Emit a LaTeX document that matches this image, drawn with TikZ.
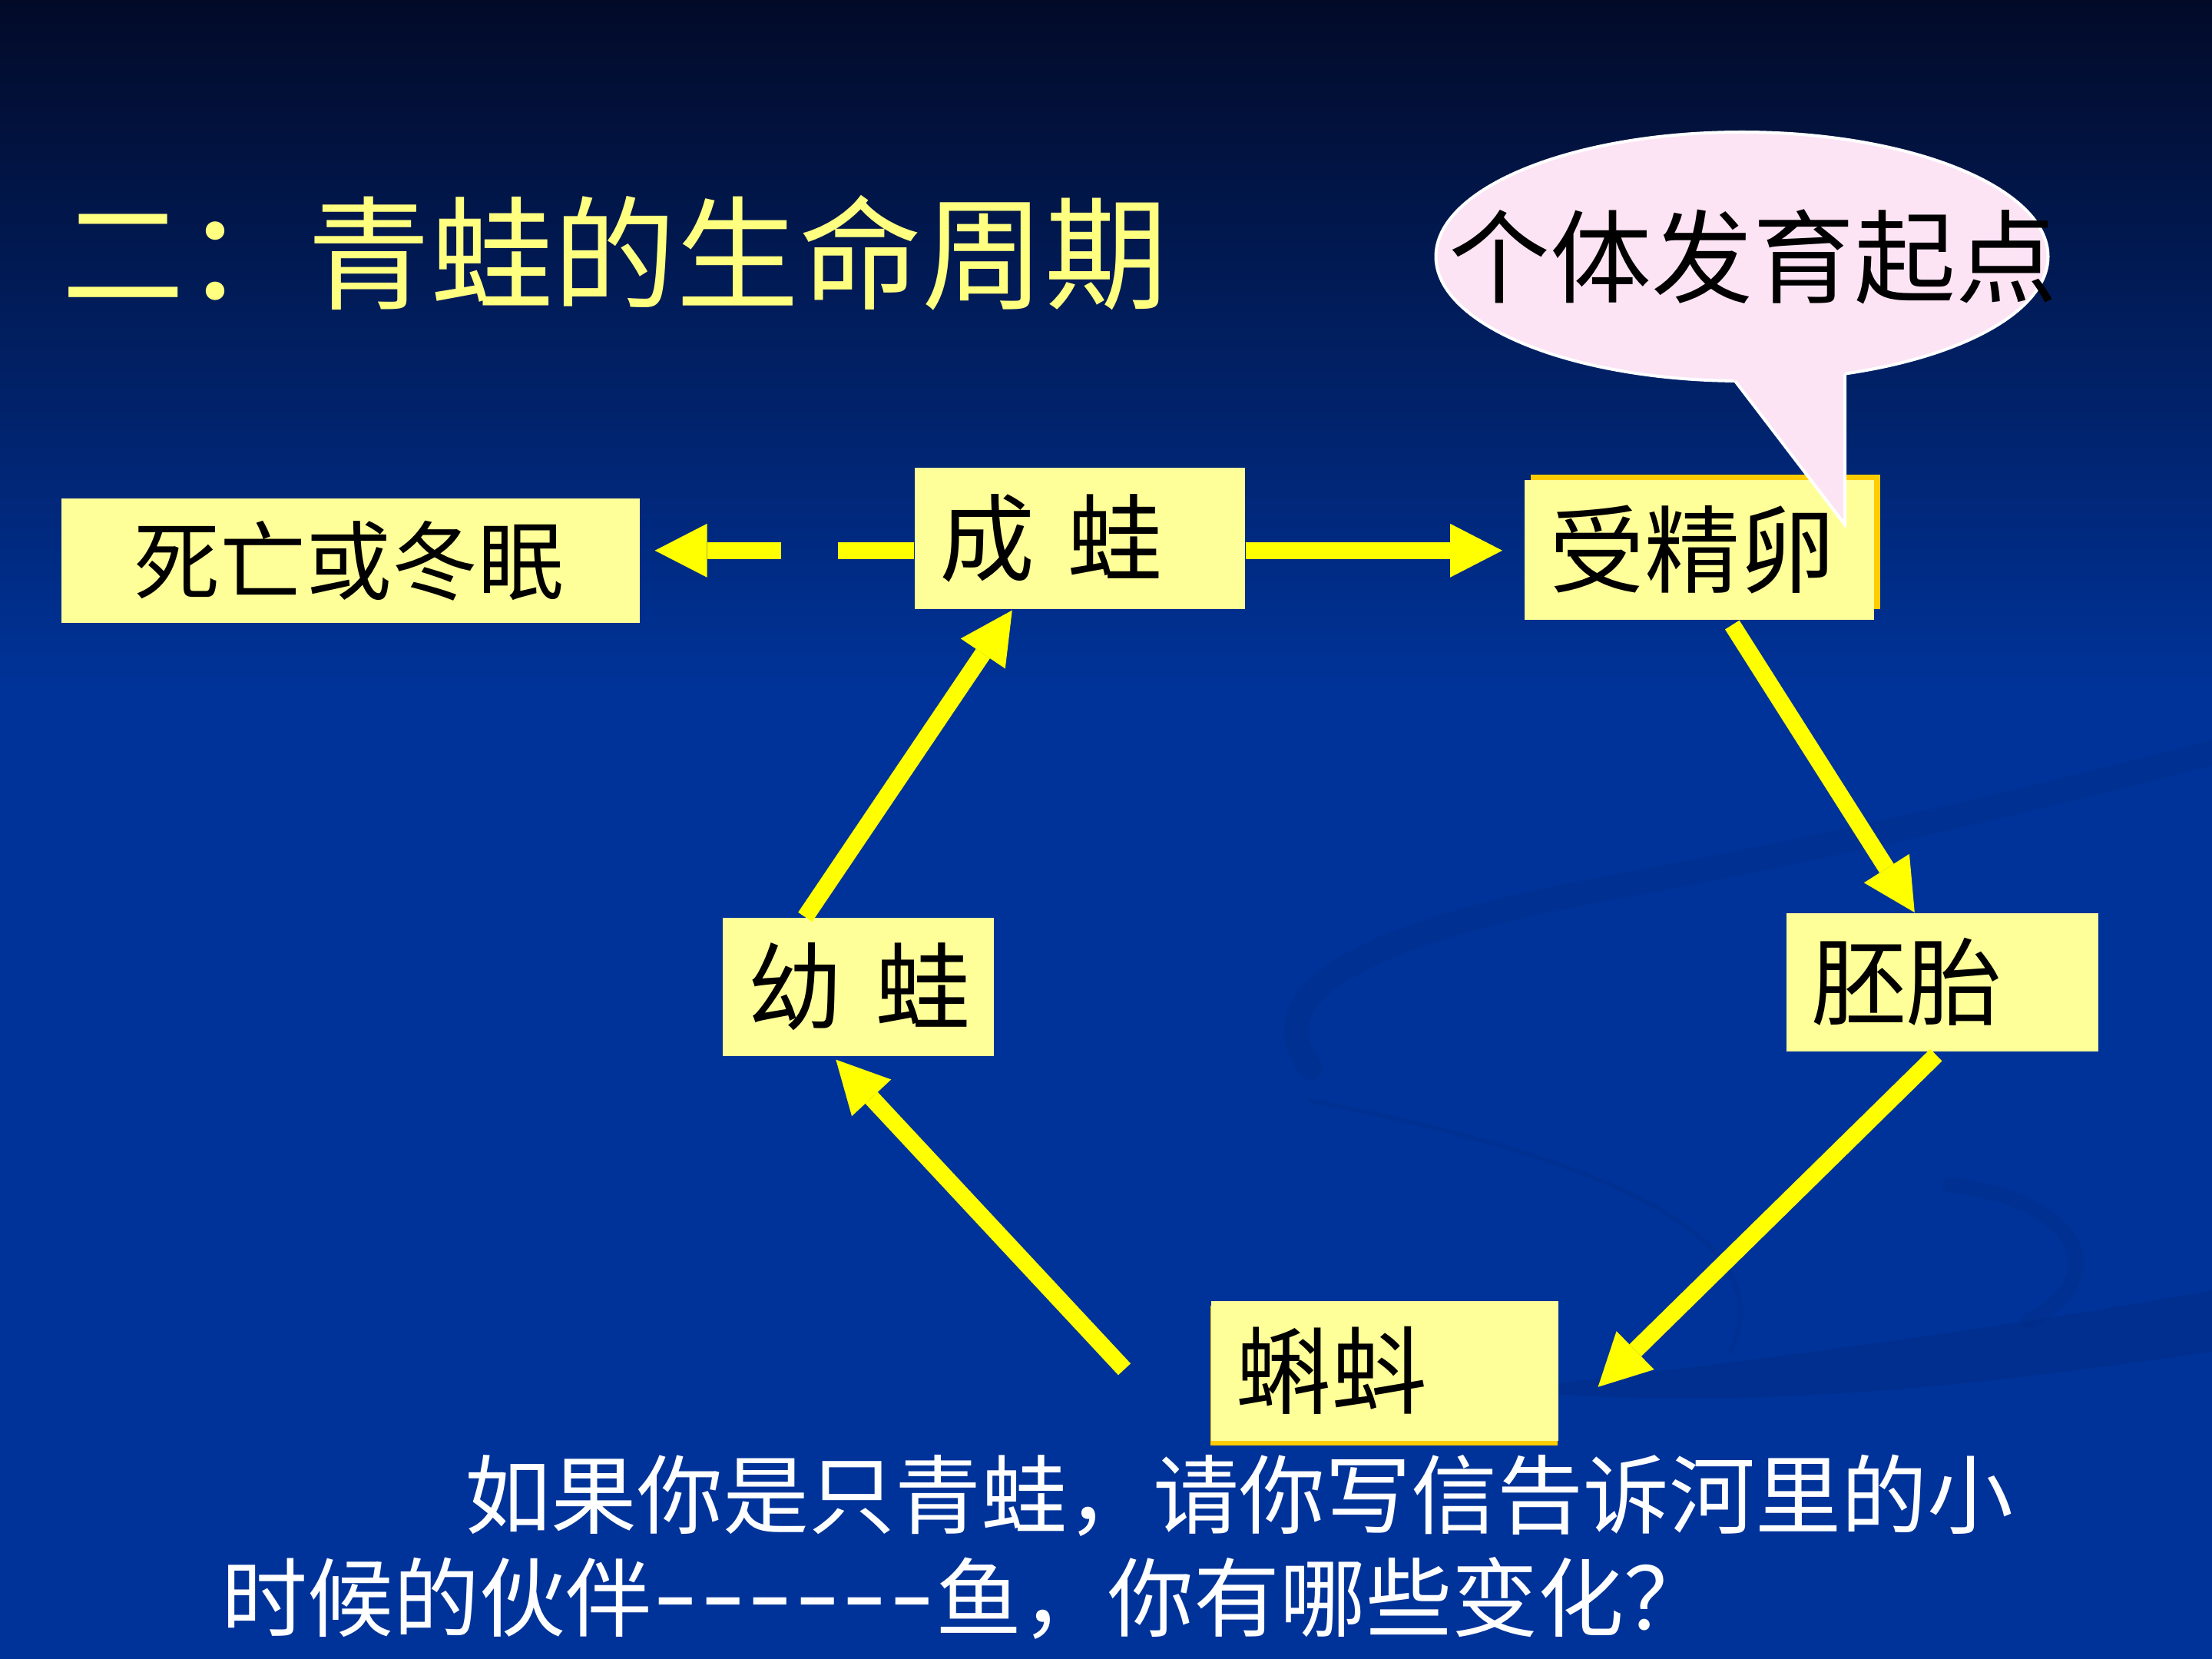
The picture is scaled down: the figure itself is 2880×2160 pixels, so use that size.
\documentclass[tikz,border=0pt]{standalone}
\usepackage{fontspec}
\newfontfamily\cjk{Noto Sans CJK SC}
\usetikzlibrary{arrows.meta,calc,shapes.geometric}
\definecolor{bgtop}{HTML}{020A28}
\definecolor{bgblue}{HTML}{003399}
\definecolor{boxy}{HTML}{FFFF99}
\definecolor{shad}{HTML}{FFCC00}
\definecolor{pinkb}{HTML}{FCE4F4}
\definecolor{titley}{HTML}{FFFF80}
\definecolor{arry}{HTML}{FFFF00}
\definecolor{swirlc}{HTML}{022A80}
\newcommand\hyph{\makebox[0.55em]{\scalebox{1.5}[1.2]{-}}}
\begin{document}
\begin{tikzpicture}[x=0.25pt,y=-0.25pt,
  boxs/.style 2 args={fill=boxy, text=black, anchor=north west, inner xsep=0pt,
    inner ysep=0pt, text width=#1, minimum height=#2, align=left,
    execute at begin node={\hspace*{8.25pt}},
    font=\cjk\fontsize{31}{34}\selectfont},
  arr/.style={draw=arry, line width=5.5pt,
    -{Triangle[length=17pt,width=17.5pt,line width=0pt]}},
  plaintext/.style={anchor=west, inner sep=0pt},
  swirl/.style={draw=swirlc, opacity=0.3, line cap=round}]
\useasboundingbox (0,0) rectangle (2880,2160);
% background
\fill[bgblue] (0,0) rectangle (2880,2160);
\shade[top color=bgtop, bottom color=bgblue] (0,0) rectangle (2880,900);
% faint background swirls
\draw[swirl, line width=8pt] (1706,1390) .. controls (1640,1300) and (1750,1220) .. (2090,1157) .. controls (2400,1100) and (2650,1040) .. (2880,980);
\draw[swirl, line width=1.5pt] (1706,1433) .. controls (2050,1500) and (2330,1600) .. (2253,1760);
\draw[swirl, line width=5pt] (2539,1543) .. controls (2700,1560) and (2760,1660) .. (2640,1720);
\fill[swirlc, opacity=0.35] (1950,1810) .. controls (2300,1770) and (2600,1730) .. (2880,1680) -- (2880,1760) .. controls (2600,1800) and (2300,1840) .. (1950,1810) -- cycle;

% title
\node[plaintext, text=titley, font=\cjk\fontsize{40}{44}\selectfont] (title) at (80,329) {二：青蛙的生命周期};

% shadows
\fill[shad] (1993,618) rectangle (2448,793);
\fill[shad] (1576,1700) rectangle (2028,1882);

% boxes
\node[boxs={188.25pt}{40.5pt}, align=center, execute at begin node={\hspace*{-9pt}}, font=\cjk\fontsize{28}{30}\selectfont] (dead) at (79,648) {死亡或冬眠};
\node[boxs={107.5pt}{46pt}] (cw) at (1190,608) {成 蛙};
\node[boxs={113.75pt}{45.5pt}] (egg) at (1984,624) {受精卵};
\node[boxs={88.25pt}{45pt}] (yw) at (940,1194) {幼 蛙};
\node[boxs={101.5pt}{45pt}] (emb) at (2325,1188) {胚胎};
\node[boxs={113pt}{45.5pt}] (tad) at (1576,1693) {蝌蚪};

% connectors
\draw[arr, dash pattern=on 24.75pt off 18.5pt] ($(cw.west)+(0,16)$) -- ($(dead.east)+(19,-13)$);
\draw[arr] ($(cw.east)+(0,16)$) -- ($(egg.west)+(-28,1)$);
\draw[arr] ($(egg.south)+(43,6)$) -- ($(emb.north)+(-36,0)$);
\draw[arr] ($(emb.south)+(-8,4)$) -- ($(tad.east)+(51,21)$);
\coordinate (tstart) at ($(tad.west)+(-112,-2)$);
\draw[arr] (tstart) -- ($(yw.south)+(-29,4)$);
\draw[arr] ($(yw.north)+(-69,0)$) -- ($(cw.south)+(-88,1)$);

% speech bubble
\node[ellipse, fill=pinkb, draw=white, line width=1pt, inner sep=0pt,
  minimum width=199.25pt, minimum height=81pt,
  font=\cjk\fontsize{33}{36}\selectfont, text=black] (bub) at (2268,334) {\makebox[0pt]{\hspace*{7pt}个体发育起点}};
\fill[pinkb] (2239,470) -- (2402,683) -- (2402,465) -- cycle;
\draw[white, line width=1pt] (2259,496) -- (2402,683) -- (2402,487);

% question text
\node[plaintext, text=white, font=\cjk\fontsize{28}{30}\selectfont] (q1) at (605,1947) {如果你是只青蛙，请你写信告诉河里的小};
\node[plaintext, text=white, font=\cjk\fontsize{28}{30}\selectfont] (q2) at (288,2081) {时候的伙伴\hyph\hyph\hyph\hyph\hyph\hyph 鱼，你有哪些变化？};
\end{tikzpicture}
\end{document}
